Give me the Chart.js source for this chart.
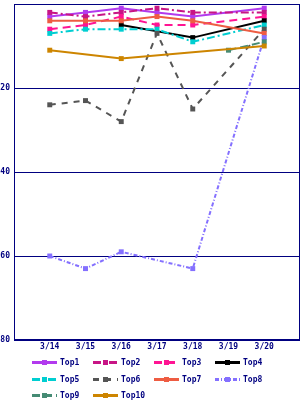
<!DOCTYPE html>
<html>
<head>
<meta charset="utf-8">
<script src="https://cdn.jsdelivr.net/npm/chart.js@4.4.1/dist/chart.umd.min.js"></script>
<style>
  html, body { margin: 0; padding: 0; background: #fff; }
  #wrap { width: 300px; height: 400px; }
</style>
</head>
<body>
<div id="wrap"><canvas id="rankChart" width="300" height="400"></canvas></div>
<script>
// dates and ranks (null = not ranked that day)
const dates = ['3/14', '3/15', '3/16', '3/17', '3/18', '3/19', '3/20'];
const names = ['Top1', 'Top2', 'Top3', 'Top4', 'Top5', 'Top6', 'Top7', 'Top8', 'Top9', 'Top10'];
const top1 = [3, 2, 1, 2, 3, null, 1];
const top2 = [2, 3, 2, 1, 2, null, 2];
const top3 = [6, 5, 3, 5, 5, null, 3];
const top4 = [null, null, 5, null, 8, null, 4];
const top5 = [7, 6, 6, 6, 9, null, 5];
const top6 = [24, 23, 28, 7, 25, null, 6];
const top7 = [4, 4, 4, 3, 4, null, 7];
const top8 = [60, 63, 59, null, 63, null, 8];
const top9 = [null, null, null, null, null, 11, 9];
const top10 = [11, null, 13, null, null, null, 10];
const yTicks = [20, 40, 60, 80];

const series = [top1, top2, top3, top4, top5, top6, top7, top8, top9, top10];
const colors = ['#b23aee', '#c71585', '#ff1493', '#000000', '#00ced1',
                '#555555', '#ee5c42', '#8470ff', '#458b74', '#cd8500'];
const dashes = [[], [8, 3, 2, 3], [8, 5], [], [8, 3, 2, 3],
                [6, 6], [], [4, 2, 1, 2], [8, 4], []];
const navy = '#000080';
const tickFont = { family: 'DejaVu Sans Mono', size: 8, weight: 'bold', lineHeight: 1 };

// empty slot at each end so the dates sit one step in from the frame
const xLabels = [''].concat(dates, ['']);
const pad = arr => [null].concat(arr, [null]);

// keep the plot frame fixed: no extra room for edge labels
const noEdgePadding = s => {
  s.paddingLeft = s.paddingRight = s.paddingTop = s.paddingBottom = 0;
};

const plotFrame = {
  id: 'plotFrame',
  beforeDatasetsDraw(chart) {
    const { ctx, chartArea: a } = chart;
    ctx.save();
    ctx.strokeStyle = navy;
    ctx.lineWidth = 1;
    ctx.strokeRect(Math.round(a.left) + 0.5, Math.round(a.top) + 0.5,
                   Math.round(a.width) - 1, Math.round(a.height) - 1);
    ctx.restore();
  }
};

// legend laid out as a 4-column grid under the axis
const gridLegend = {
  id: 'gridLegend',
  afterDraw(chart) {
    const ctx = chart.ctx;
    const top = chart.chartArea.bottom + 22;
    ctx.save();
    chart.data.datasets.forEach((ds, i) => {
      const x = 32 + (i % 4) * 61;
      const y = Math.round(top + Math.floor(i / 4) * 16.5);
      ctx.strokeStyle = ds.borderColor;
      ctx.lineWidth = 3;
      ctx.setLineDash(ds.borderDash);
      ctx.beginPath();
      ctx.moveTo(x, y + 0.5);
      ctx.lineTo(x + 25, y + 0.5);
      ctx.stroke();
      ctx.setLineDash([]);
      ctx.fillStyle = ds.borderColor;
      ctx.fillRect(x + 10, y - 2, 5, 5);
      ctx.fillStyle = navy;
      ctx.font = 'bold 8px "DejaVu Sans Mono"';
      ctx.textBaseline = 'middle';
      ctx.fillText(ds.label, x + 28, y + 0.5);
    });
    ctx.restore();
  }
};

new Chart(document.getElementById('rankChart'), {
  type: 'line',
  data: {
    labels: xLabels,
    datasets: series.map((vals, i) => ({
      label: names[i],
      data: pad(vals),
      borderColor: colors[i],
      backgroundColor: colors[i],
      borderDash: dashes[i],
      borderWidth: 2,
      pointStyle: 'rect',
      pointRadius: 3.5,
      pointBorderWidth: 0,
      pointBackgroundColor: colors[i],
      tension: 0,
      spanGaps: true,
      order: series.length - i
    }))
  },
  options: {
    responsive: false,
    animation: false,
    layout: { autoPadding: false, padding: { top: 4, right: 0, bottom: 46, left: 0 } },
    scales: {
      x: {
        offset: false,
        afterFit: s => { s.height = 14; noEdgePadding(s); },
        grid: { display: false, drawTicks: false },
        border: { display: false },
        ticks: { color: navy, font: tickFont, padding: 3, autoSkip: false, maxRotation: 0 }
      },
      y: {
        reverse: true,
        min: 0,
        max: 80,
        afterFit: s => { s.width = 14; noEdgePadding(s); },
        afterBuildTicks: s => { s.ticks = [0].concat(yTicks).map(v => ({ value: v })); },
        grid: { color: navy, drawTicks: false },
        border: { display: false },
        ticks: {
          color: navy,
          font: tickFont,
          padding: 4,
          callback: v => (v === 0 ? '' : v)
        }
      }
    },
    plugins: {
      legend: { display: false },
      tooltip: { enabled: false }
    }
  },
  plugins: [plotFrame, gridLegend]
});
</script>
</body>
</html>
